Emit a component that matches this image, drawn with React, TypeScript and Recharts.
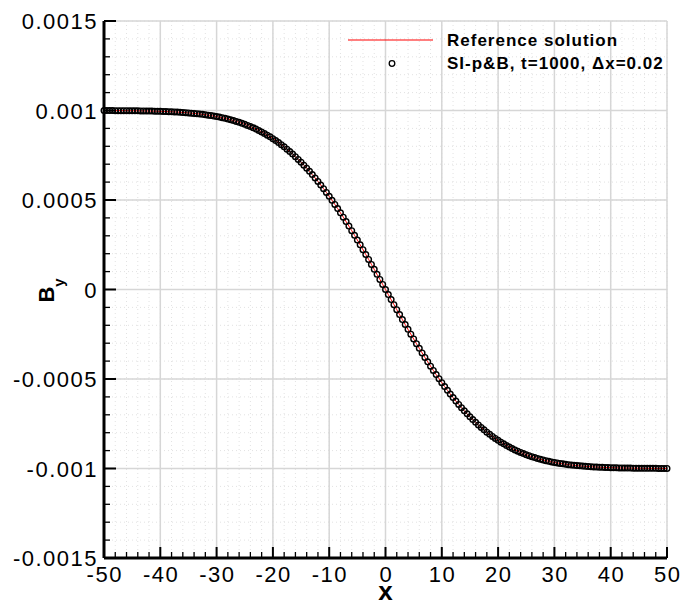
import React from 'react';
import { LineChart, Line, XAxis, YAxis, CartesianGrid, ReferenceLine } from 'recharts';

// x positions of the samples (step 0.5)
const xValues = [
  -50, -49.5, -49, -48.5, -48, -47.5, -47, -46.5, -46, -45.5,
  -45, -44.5, -44, -43.5, -43, -42.5, -42, -41.5, -41, -40.5,
  -40, -39.5, -39, -38.5, -38, -37.5, -37, -36.5, -36, -35.5,
  -35, -34.5, -34, -33.5, -33, -32.5, -32, -31.5, -31, -30.5,
  -30, -29.5, -29, -28.5, -28, -27.5, -27, -26.5, -26, -25.5,
  -25, -24.5, -24, -23.5, -23, -22.5, -22, -21.5, -21, -20.5,
  -20, -19.5, -19, -18.5, -18, -17.5, -17, -16.5, -16, -15.5,
  -15, -14.5, -14, -13.5, -13, -12.5, -12, -11.5, -11, -10.5,
  -10, -9.5, -9, -8.5, -8, -7.5, -7, -6.5, -6, -5.5,
  -5, -4.5, -4, -3.5, -3, -2.5, -2, -1.5, -1, -0.5,
  0,
  0.5, 1, 1.5, 2, 2.5, 3, 3.5, 4, 4.5, 5,
  5.5, 6, 6.5, 7, 7.5, 8, 8.5, 9, 9.5, 10,
  10.5, 11, 11.5, 12, 12.5, 13, 13.5, 14, 14.5, 15,
  15.5, 16, 16.5, 17, 17.5, 18, 18.5, 19, 19.5, 20,
  20.5, 21, 21.5, 22, 22.5, 23, 23.5, 24, 24.5, 25,
  25.5, 26, 26.5, 27, 27.5, 28, 28.5, 29, 29.5, 30,
  30.5, 31, 31.5, 32, 32.5, 33, 33.5, 34, 34.5, 35,
  35.5, 36, 36.5, 37, 37.5, 38, 38.5, 39, 39.5, 40,
  40.5, 41, 41.5, 42, 42.5, 43, 43.5, 44, 44.5, 45,
  45.5, 46, 46.5, 47, 47.5, 48, 48.5, 49, 49.5, 50,
];

// B_y
const byValues = [
  0.0009996, 0.0009995, 0.0009995, 0.0009994, 0.0009993, 0.0009992, 0.0009991, 0.000999, 0.0009989, 0.0009987,
  0.0009985, 0.0009984, 0.0009981, 0.0009979, 0.0009976, 0.0009973, 0.000997, 0.0009967, 0.0009963, 0.0009958,
  0.0009953, 0.0009948, 0.0009942, 0.0009935, 0.0009928, 0.000992, 0.0009911, 0.0009901, 0.0009891, 0.0009879,
  0.0009867, 0.0009853, 0.0009838, 0.0009822, 0.0009804, 0.0009784, 0.0009763, 0.0009741, 0.0009716, 0.000969,
  0.0009661, 0.000963, 0.0009597, 0.0009561, 0.0009523, 0.0009482, 0.0009438, 0.000939, 0.000934, 0.0009286,
  0.0009229, 0.0009168, 0.0009103, 0.0009034, 0.0008961, 0.0008884, 0.0008802, 0.0008716, 0.0008624, 0.0008528,
  0.0008427, 0.0008321, 0.0008209, 0.0008092, 0.0007969, 0.0007841, 0.0007707, 0.0007567, 0.0007421, 0.0007269,
  0.0007112, 0.0006948, 0.0006778, 0.0006602, 0.000642, 0.0006232, 0.0006039, 0.0005839, 0.0005633, 0.0005422,
  0.0005205, 0.0004983, 0.0004755, 0.0004522, 0.0004284, 0.0004041, 0.0003794, 0.0003542, 0.0003286, 0.0003027,
  0.0002763, 0.0002497, 0.0002227, 0.0001955, 0.000168, 0.0001403, 0.0001125, 0.0000845, 0.0000564, 0.0000282,
  0,
  -0.0000282, -0.0000564, -0.0000845, -0.0001125, -0.0001403, -0.000168, -0.0001955, -0.0002227, -0.0002497, -0.0002763,
  -0.0003027, -0.0003286, -0.0003542, -0.0003794, -0.0004041, -0.0004284, -0.0004522, -0.0004755, -0.0004983, -0.0005205,
  -0.0005422, -0.0005633, -0.0005839, -0.0006039, -0.0006232, -0.000642, -0.0006602, -0.0006778, -0.0006948, -0.0007112,
  -0.0007269, -0.0007421, -0.0007567, -0.0007707, -0.0007841, -0.0007969, -0.0008092, -0.0008209, -0.0008321, -0.0008427,
  -0.0008528, -0.0008624, -0.0008716, -0.0008802, -0.0008884, -0.0008961, -0.0009034, -0.0009103, -0.0009168, -0.0009229,
  -0.0009286, -0.000934, -0.000939, -0.0009438, -0.0009482, -0.0009523, -0.0009561, -0.0009597, -0.000963, -0.0009661,
  -0.000969, -0.0009716, -0.0009741, -0.0009763, -0.0009784, -0.0009804, -0.0009822, -0.0009838, -0.0009853, -0.0009867,
  -0.0009879, -0.0009891, -0.0009901, -0.0009911, -0.000992, -0.0009928, -0.0009935, -0.0009942, -0.0009948, -0.0009953,
  -0.0009958, -0.0009963, -0.0009967, -0.000997, -0.0009973, -0.0009976, -0.0009979, -0.0009981, -0.0009984, -0.0009985,
  -0.0009987, -0.0009989, -0.000999, -0.0009991, -0.0009992, -0.0009993, -0.0009994, -0.0009995, -0.0009995, -0.0009996,
];

const xTicks = [
  -50, -48, -46, -44, -42, -40, -38, -36, -34, -32, -30, -28, -26, -24, -22, -20, -18, -16, -14, -12,
  -10, -8, -6, -4, -2, 0, 2, 4, 6, 8, 10, 12, 14, 16, 18, 20, 22, 24, 26, 28, 30, 32, 34, 36, 38,
  40, 42, 44, 46, 48, 50,
];
const xMajor = [-50, -40, -30, -20, -10, 0, 10, 20, 30, 40, 50];

const yTicks = [
  -0.0015, -0.0014, -0.0013, -0.0012, -0.0011, -0.001, -0.0009, -0.0008, -0.0007, -0.0006,
  -0.0005, -0.0004, -0.0003, -0.0002, -0.0001, 0, 0.0001, 0.0002, 0.0003, 0.0004,
  0.0005, 0.0006, 0.0007, 0.0008, 0.0009, 0.001, 0.0011, 0.0012, 0.0013, 0.0014, 0.0015,
];
const yMajor = [-0.0015, -0.001, -0.0005, 0, 0.0005, 0.001, 0.0015];
const yMajorLabels = ['-0.0015', '-0.001', '-0.0005', '0', '0.0005', '0.001', '0.0015'];

const legendLabels = ['Reference solution', 'SI-p&B, t=1000, \u0394x=0.02'];

const rows = xValues.map((x, i) => ({ x, ref: byValues[i], num: byValues[i] }));

const FONT = '"Liberation Sans", Arial, Helvetica, sans-serif';

const XTick = (props: any) => {
  const { x, y, payload } = props;
  const v = payload.value;
  const major = xMajor.includes(v);
  const ay = y - 4;
  return (
    <g>
      <line x1={x} x2={x} y1={ay} y2={ay - (major ? 11 : 6)} stroke="#000" strokeWidth={major ? 2 : 1.3} />
      {major && (
        <text x={x + 0.75} y={ay + 24} textAnchor="middle" fontSize={22} letterSpacing={1.5} fontFamily={FONT} fill="#000">
          {String(v)}
        </text>
      )}
    </g>
  );
};

const YTick = (props: any) => {
  const { x, y, payload } = props;
  const v = payload.value;
  const idx = yMajor.findIndex((m) => Math.abs(m - v) < 1e-9);
  const major = idx >= 0;
  const ax = x + 7;
  return (
    <g>
      <line x1={ax} x2={ax + (major ? 12 : 6)} y1={y} y2={y} stroke="#000" strokeWidth={major ? 2 : 1.3} />
      {major && (
        <text x={x + 1} y={y + 8} textAnchor="end" fontSize={22} letterSpacing={1.5} fontFamily={FONT} fill="#000">
          {yMajorLabels[idx]}
        </text>
      )}
    </g>
  );
};

const XLabel = (props: any) => {
  const vb = props.viewBox;
  return (
    <text x={vb.x + vb.width / 2} y={vb.y + 42} textAnchor="middle" fontSize={26} fontWeight="bold" fontFamily={FONT} fill="#000">
      x
    </text>
  );
};

const YLabel = (props: any) => {
  const vb = props.viewBox;
  const cx = vb.x + 54;
  const cy = vb.y + vb.height / 2 + 1;
  return (
    <text transform={`translate(${cx}, ${cy}) rotate(-90)`} textAnchor="middle" fontSize={22} fontWeight="bold" fontFamily={FONT} fill="#000">
      B
      <tspan dy={10} fontSize={15}>y</tspan>
    </text>
  );
};

export default function App() {
  return (
    <div style={{ position: 'relative', width: 683, height: 603, background: '#fff' }}>
      <style>{`body{margin:0;}`}</style>
      <LineChart width={683} height={603} data={rows} margin={{ top: 21, right: 16, bottom: 0, left: 0 }}>
        <CartesianGrid strokeDasharray="1 3" stroke="#e2e2e2" strokeWidth={1} />
        {xMajor.filter((v) => v !== -50).map((v) => (
          <ReferenceLine key={'vx' + v} x={v} stroke="#d6d6d6" strokeWidth={1.5} />
        ))}
        {yMajor.filter((v) => v !== -0.0015).map((v) => (
          <ReferenceLine key={'hy' + v} y={v} stroke="#d6d6d6" strokeWidth={1.5} />
        ))}
        <XAxis
          dataKey="x"
          type="number"
          domain={[-50, 50]}
          ticks={xTicks}
          interval={0}
          height={45}
          tickSize={0}
          tickMargin={4}
          tickLine={false}
          tick={<XTick />}
          axisLine={{ stroke: '#000', strokeWidth: 3 }}
          label={{ content: XLabel }}
        />
        <YAxis
          type="number"
          domain={[-0.0015, 0.0015]}
          ticks={yTicks}
          interval={0}
          width={104}
          tickSize={0}
          tickMargin={7}
          tickLine={false}
          tick={<YTick />}
          axisLine={{ stroke: '#000', strokeWidth: 3 }}
          label={{ content: YLabel }}
        />
        <Line dataKey="ref" stroke="#ff0000" strokeWidth={1} dot={false} isAnimationActive={false} />
        <Line
          dataKey="num"
          stroke="none"
          dot={{ r: 2.8, stroke: '#000', strokeWidth: 1.4, fill: 'none' }}
          activeDot={false}
          isAnimationActive={false}
        />
      </LineChart>
      <svg style={{ position: 'absolute', left: 0, top: 0, pointerEvents: 'none' }} width={683} height={603}>
        <line x1={348} x2={433} y1={40} y2={40} stroke="#ff0000" strokeWidth={1} />
        <circle cx={392} cy={63.5} r={2.8} stroke="#000" strokeWidth={1.3} fill="none" />
        <text x={447} y={46} fontSize={17} fontWeight="bold" letterSpacing={1} fontFamily={FONT} fill="#000">
          {legendLabels[0]}
        </text>
        <text x={447} y={69} fontSize={17} fontWeight="bold" letterSpacing={1} fontFamily={FONT} fill="#000">
          {legendLabels[1]}
        </text>
      </svg>
    </div>
  );
}
